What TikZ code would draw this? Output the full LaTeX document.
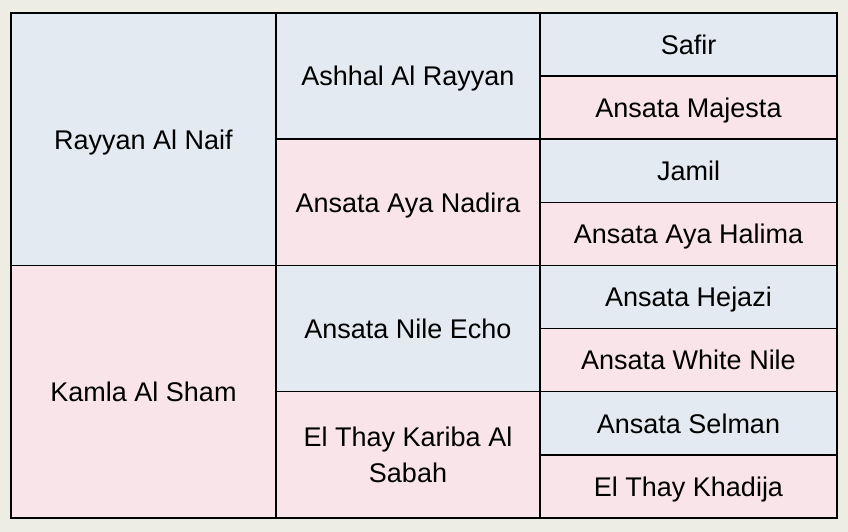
\documentclass[tikz,border=0pt]{standalone}
\usepackage{fontspec}
\setmainfont{Liberation Sans}
\usetikzlibrary{positioning}
\definecolor{pageback}{HTML}{EEEDE4}
\definecolor{colt}{HTML}{E3EAF1}
\definecolor{filly}{HTML}{F9E4E9}
\tikzset{x=1pt,y=1pt}
\tikzset{
    cell/.style={draw=black,line width=1.5pt,inner sep=0pt,outer sep=0pt,anchor=north west,
        minimum width=#1,align=center,text depth=0pt,font=\fontsize{27}{36}\selectfont},
    sire/.style={cell=#1,fill=colt},
    dam/.style={cell=#1,fill=filly},
    gen1/.style={minimum height=252.5pt},
    gen2/.style={minimum height=126.25pt},
    gen3/.style={minimum height=63.125pt}
}

\begin{document}
\begin{tikzpicture}
    \fill[pageback] (0,0) rectangle (848,532);
    \useasboundingbox (0,0) rectangle (848,532);
    % first generation
    \node[sire=265pt,gen1] (s)   at (11,519)   {Rayyan Al Naif};
    \node[dam=265pt,gen1]  (d)   at (s.south west) {Kamla Al Sham};
    % second generation
    \node[sire=264pt,gen2] (ss)  at (s.north east) {Ashhal Al Rayyan};
    \node[dam=264pt,gen2]  (sd)  at (ss.south west) {Ansata Aya Nadira};
    \node[sire=264pt,gen2] (ds)  at (d.north east) {Ansata Nile Echo};
    \node[dam=264pt,gen2]  (dd)  at (ds.south west) {El Thay Kariba Al\\Sabah};
    % third generation
    \node[sire=297pt,gen3] (sss) at (ss.north east)  {Safir};
    \node[dam=297pt,gen3]  (ssd) at (sss.south west) {Ansata Majesta};
    \node[sire=297pt,gen3] (sds) at (sd.north east)  {Jamil};
    \node[dam=297pt,gen3]  (sdd) at (sds.south west) {Ansata Aya Halima};
    \node[sire=297pt,gen3] (dss) at (ds.north east)  {Ansata Hejazi};
    \node[dam=297pt,gen3]  (dsd) at (dss.south west) {Ansata White Nile};
    \node[sire=297pt,gen3] (dds) at (dd.north east)  {Ansata Selman};
    \node[dam=297pt,gen3]  (ddd) at (dds.south west) {El Thay Khadija};
\end{tikzpicture}
\end{document}
